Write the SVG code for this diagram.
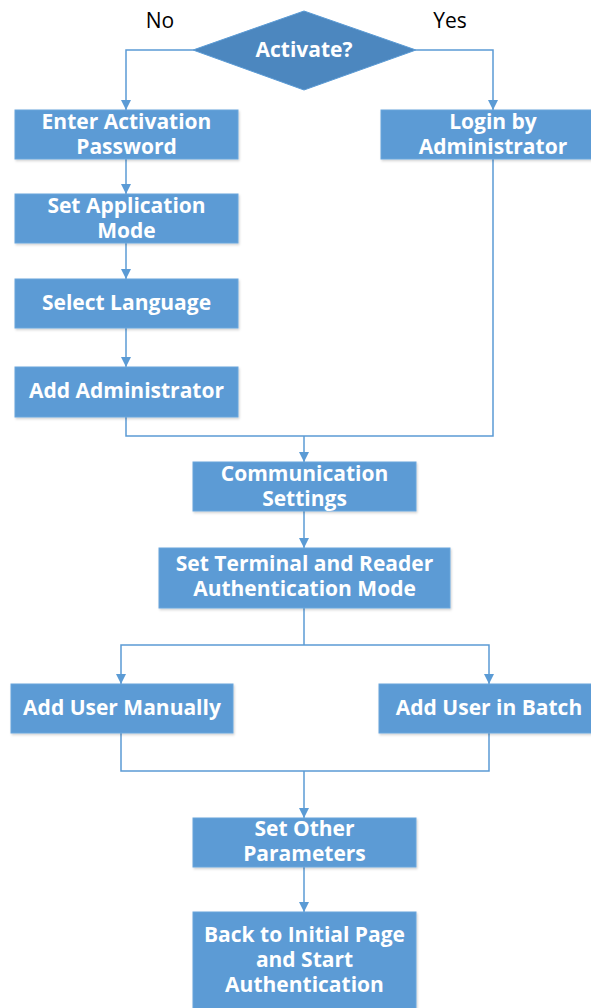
<svg xmlns="http://www.w3.org/2000/svg" width="591" height="1008" viewBox="0 0 591 1008">
  <style>
    .box { fill: #5b9bd5; stroke: #6aa6dc; stroke-width: 1; filter: url(#shadow); }
    .dia { fill: #4c87bf; stroke: #5b9bd5; stroke-width: 1; }
    .lbl { font-family: "Open Sans", "Noto Sans", sans-serif; font-weight: bold; font-size: 21px; fill: #ffffff; text-anchor: middle; }
    .yn { font-family: "Open Sans", "Noto Sans", sans-serif; font-size: 21px; fill: #000000; text-anchor: middle; }
    .ln { fill: none; stroke: #5b9bd5; stroke-width: 1.5; }
  </style>
  <defs>
    <marker id="arrow" markerWidth="10" markerHeight="10" refX="10" refY="5" orient="auto" markerUnits="userSpaceOnUse">
      <path d="M0,0 L10,5 L0,10 Z" fill="#5b9bd5"/>
    </marker>
    <filter id="shadow" x="-5%" y="-10%" width="110%" height="125%">
      <feDropShadow dx="1" dy="1.5" stdDeviation="1.2" flood-color="#000000" flood-opacity="0.18"/>
    </filter>
  </defs>
  <rect width="591" height="1008" fill="#ffffff"/>

  <!-- connectors -->
  <g id="connectors">
    <path class="ln" d="M193.5,50 H126 V110" marker-end="url(#arrow)"/>
    <path class="ln" d="M415.5,50 H493 V110" marker-end="url(#arrow)"/>
    <path class="ln" d="M126,159 V194" marker-end="url(#arrow)"/>
    <path class="ln" d="M126,243 V279" marker-end="url(#arrow)"/>
    <path class="ln" d="M126,328 V367" marker-end="url(#arrow)"/>
    <path class="ln" d="M126,417 V436 H493 V159"/>
    <path class="ln" d="M304,436 V462" marker-end="url(#arrow)"/>
    <path class="ln" d="M304,511 V548" marker-end="url(#arrow)"/>
    <path class="ln" d="M304,608 V645"/>
    <path class="ln" d="M304,645 H121 V684" marker-end="url(#arrow)"/>
    <path class="ln" d="M304,645 H489 V684" marker-end="url(#arrow)"/>
    <path class="ln" d="M121,733 V771 H489 V733"/>
    <path class="ln" d="M304,771 V818" marker-end="url(#arrow)"/>
    <path class="ln" d="M304,867 V912" marker-end="url(#arrow)"/>
  </g>

  <!-- decision -->
  <g id="activate">
    <polygon class="dia" points="304,11 416,50 304,90 193,50"/>
    <text class="lbl" x="304" y="57">Activate?</text>
  </g>
  <text class="yn" x="160" y="28">No</text>
  <text class="yn" x="450" y="28">Yes</text>

  <g id="enter-password">
    <rect class="box" x="15" y="110" width="223" height="49"/>
    <text class="lbl" x="126.5" y="129">Enter Activation</text>
    <text class="lbl" x="126.5" y="154">Password</text>
  </g>
  <g id="login-admin">
    <rect class="box" x="381" y="110" width="224" height="49"/>
    <text class="lbl" x="493" y="129">Login by</text>
    <text class="lbl" x="493" y="154">Administrator</text>
  </g>
  <g id="app-mode">
    <rect class="box" x="15" y="194" width="223" height="49"/>
    <text class="lbl" x="126.5" y="213">Set Application</text>
    <text class="lbl" x="126.5" y="238">Mode</text>
  </g>
  <g id="language">
    <rect class="box" x="15" y="279" width="223" height="49"/>
    <text class="lbl" x="126.5" y="310">Select Language</text>
  </g>
  <g id="add-admin">
    <rect class="box" x="15" y="367" width="223" height="50"/>
    <text class="lbl" x="126.5" y="398">Add Administrator</text>
  </g>
  <g id="communication">
    <rect class="box" x="193" y="462" width="223" height="49"/>
    <text class="lbl" x="304.5" y="481">Communication</text>
    <text class="lbl" x="304.5" y="506">Settings</text>
  </g>
  <g id="auth-mode">
    <rect class="box" x="159" y="548" width="291" height="60"/>
    <text class="lbl" x="304.5" y="571">Set Terminal and Reader</text>
    <text class="lbl" x="304.5" y="596">Authentication Mode</text>
  </g>
  <g id="user-manual">
    <rect class="box" x="11" y="684" width="222" height="49"/>
    <text class="lbl" x="122" y="715">Add User Manually</text>
  </g>
  <g id="user-batch">
    <rect class="box" x="379" y="684" width="220" height="49"/>
    <text class="lbl" x="489" y="715">Add User in Batch</text>
  </g>
  <g id="other-params">
    <rect class="box" x="193" y="818" width="223" height="49"/>
    <text class="lbl" x="304.5" y="836">Set Other</text>
    <text class="lbl" x="304.5" y="861">Parameters</text>
  </g>
  <g id="start-auth">
    <rect class="box" x="193" y="912" width="223" height="100"/>
    <text class="lbl" x="304.5" y="942">Back to Initial Page</text>
    <text class="lbl" x="304.5" y="967">and Start</text>
    <text class="lbl" x="304.5" y="992">Authentication</text>
  </g>
</svg>
